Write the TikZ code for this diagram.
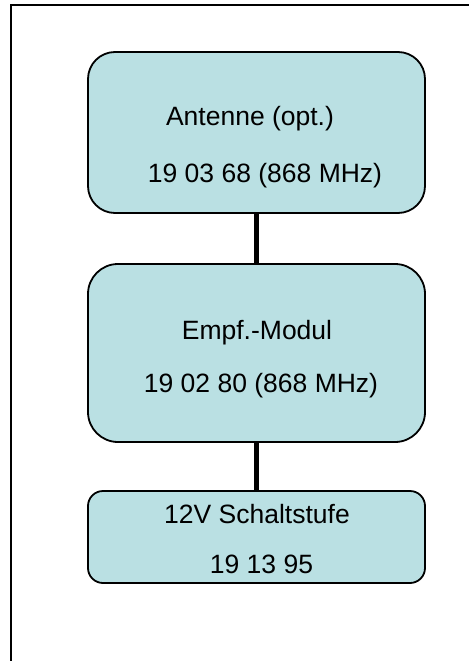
\documentclass[tikz,border=0pt]{standalone}
\usepackage{fontspec}
\setmainfont{Liberation Sans}
\definecolor{boxfill}{RGB}{186,224,227}
\tikzset{
  block/.style={draw=black, line width=1.8pt, fill=boxfill, minimum width=337pt, inner sep=0pt},
  label/.style={anchor=base, inner sep=0pt, font=\fontsize{26.5}{31}\selectfont},
  link/.style={line width=5pt}
}

\begin{document}
\begin{tikzpicture}[x=1pt,y=-1pt]
  \useasboundingbox (0,0) rectangle (469,661);
  % frame
  \draw[line width=1.5pt] (11,661) -- (11,5) -- (469,5);

  % boxes
  \node[block, rounded corners=27pt, minimum height=161pt] (antenne) at (256.5,132.5) {};
  \node[block, rounded corners=30pt, minimum height=178pt] (modul) at (256.5,353) {};
  \node[block, rounded corners=15pt, minimum height=92pt] (schalt) at (256.5,537) {};

  \draw[link] (antenne.south) -- (modul.north);
  \draw[link] (modul.south) -- (schalt.north);

  % texts
  \node[label] (antname) at (250,125) {Antenne (opt.)};
  \node[label] (antnr) at (265,182) {19 03 68 (868 MHz)};
  \node[label] (modname) at (257,339) {Empf.-Modul};
  \node[label] (modnr) at (261,392) {19 02 80 (868 MHz)};
  \node[label] (schname) at (257,523) {12V Schaltstufe};
  \node[label] (schnr) at (261.5,573) {19 13 95};
\end{tikzpicture}
\end{document}
